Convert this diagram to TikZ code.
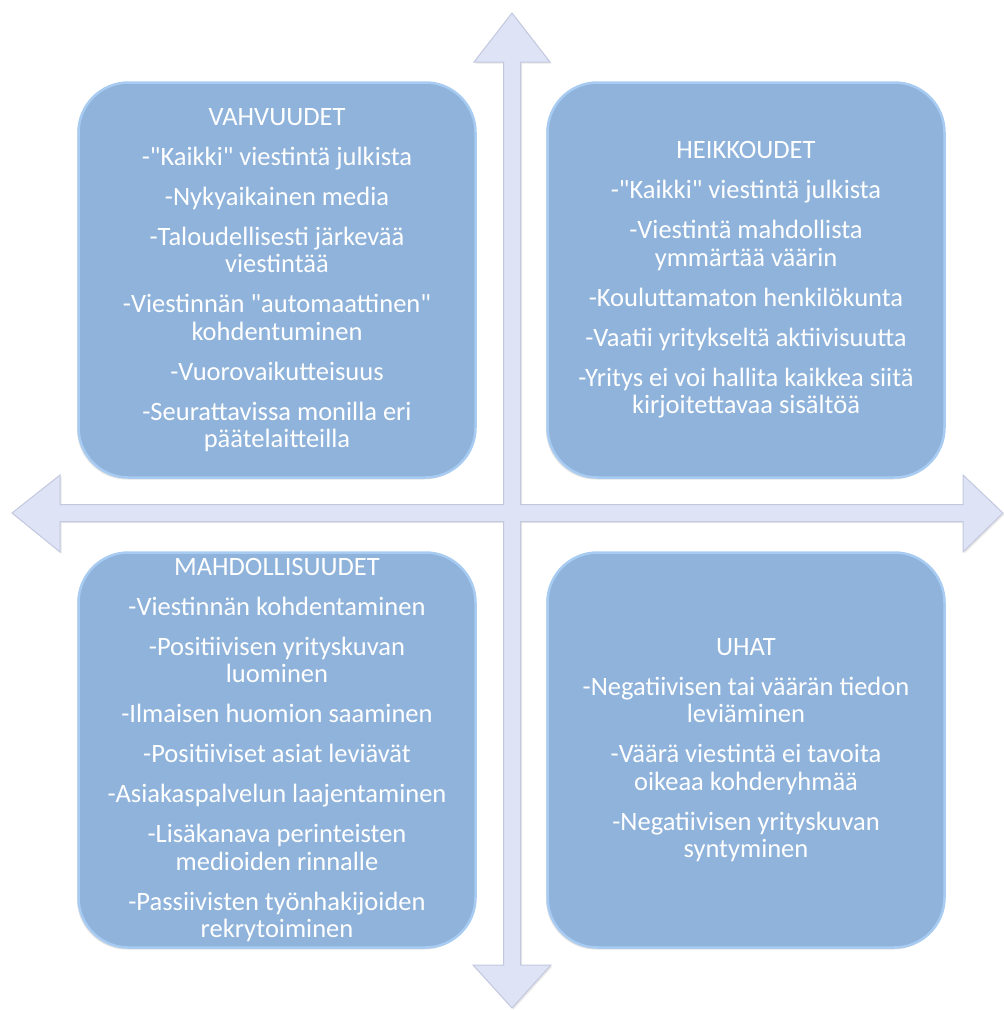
\documentclass[tikz,border=0pt]{standalone}
\usepackage{fontspec}
\newfontfamily\quadfont{Carlito}
\usetikzlibrary{shadows}
\definecolor{boxblue}{RGB}{143,179,218}
\definecolor{boxedge}{RGB}{168,203,242}
\definecolor{crossfill}{RGB}{223,227,246}
\definecolor{crossedge}{RGB}{196,200,222}

\begin{document}
\begin{tikzpicture}[x=1pt, y=-1pt,
    every node/.style={font=\quadfont\fontsize{26.5}{27.5}\selectfont, align=center, text=white},
    quad/.style={rounded corners=50pt, fill=boxblue, draw=boxedge, line width=2.5pt,
        minimum width=397pt, minimum height=395pt, inner sep=0pt,
        drop shadow={opacity=0.22, shadow xshift=-1.5pt, shadow yshift=-2pt}},
    cross/.style={fill=crossfill, draw=crossedge, line width=1pt,
        drop shadow={opacity=0.18, shadow xshift=1.5pt, shadow yshift=-1.5pt}}]

    \useasboundingbox (0,0) rectangle (1004,1010);

    % Four-headed cross (axes)
    \draw[cross] (512,13) -- (550,62) -- (520.5,62) -- (520.5,504.5)
        -- (963,504.5) -- (963,475) -- (1003,513) -- (963,552) -- (963,521.5)
        -- (520.5,521.5) -- (520.5,965) -- (551,965) -- (512,1008) -- (473,965)
        -- (503.5,965) -- (503.5,521.5) -- (60,521.5) -- (60,552) -- (12,513)
        -- (60,475) -- (60,504.5) -- (503.5,504.5) -- (503.5,62) -- (474,62) -- cycle;

    % Quadrants
    \node[quad] (vahvuudet) at (277,280) {VAHVUUDET\\[12.5pt]
        -"Kaikki" viestintä julkista\\[12.5pt]
        -Nykyaikainen media\\[12.5pt]
        -Taloudellisesti järkevää\\viestintää\\[12.5pt]
        -Viestinnän "automaattinen"\\kohdentuminen\\[12.5pt]
        -Vuorovaikutteisuus\\[12.5pt]
        -Seurattavissa monilla eri\\päätelaitteilla};

    \node[quad] (heikkoudet) at (746,280) {HEIKKOUDET\\[12.5pt]
        -"Kaikki" viestintä julkista\\[12.5pt]
        -Viestintä mahdollista\\ymmärtää väärin\\[12.5pt]
        -Kouluttamaton henkilökunta\\[12.5pt]
        -Vaatii yritykseltä aktiivisuutta\\[12.5pt]
        -Yritys ei voi hallita kaikkea siitä\\kirjoitettavaa sisältöä};

    \node[quad] (mahdollisuudet) at (277,750) {MAHDOLLISUUDET\\[12.5pt]
        -Viestinnän kohdentaminen\\[12.5pt]
        -Positiivisen yrityskuvan\\luominen\\[12.5pt]
        -Ilmaisen huomion saaminen\\[12.5pt]
        -Positiiviset asiat leviävät\\[12.5pt]
        -Asiakaspalvelun laajentaminen\\[12.5pt]
        -Lisäkanava perinteisten\\medioiden rinnalle\\[12.5pt]
        -Passiivisten työnhakijoiden\\rekrytoiminen};

    \node[quad] (uhat) at (746,750) {UHAT\\[12.5pt]
        -Negatiivisen tai väärän tiedon\\leviäminen\\[12.5pt]
        -Väärä viestintä ei tavoita\\oikeaa kohderyhmää\\[12.5pt]
        -Negatiivisen yrityskuvan\\syntyminen};

\end{tikzpicture}
\end{document}
